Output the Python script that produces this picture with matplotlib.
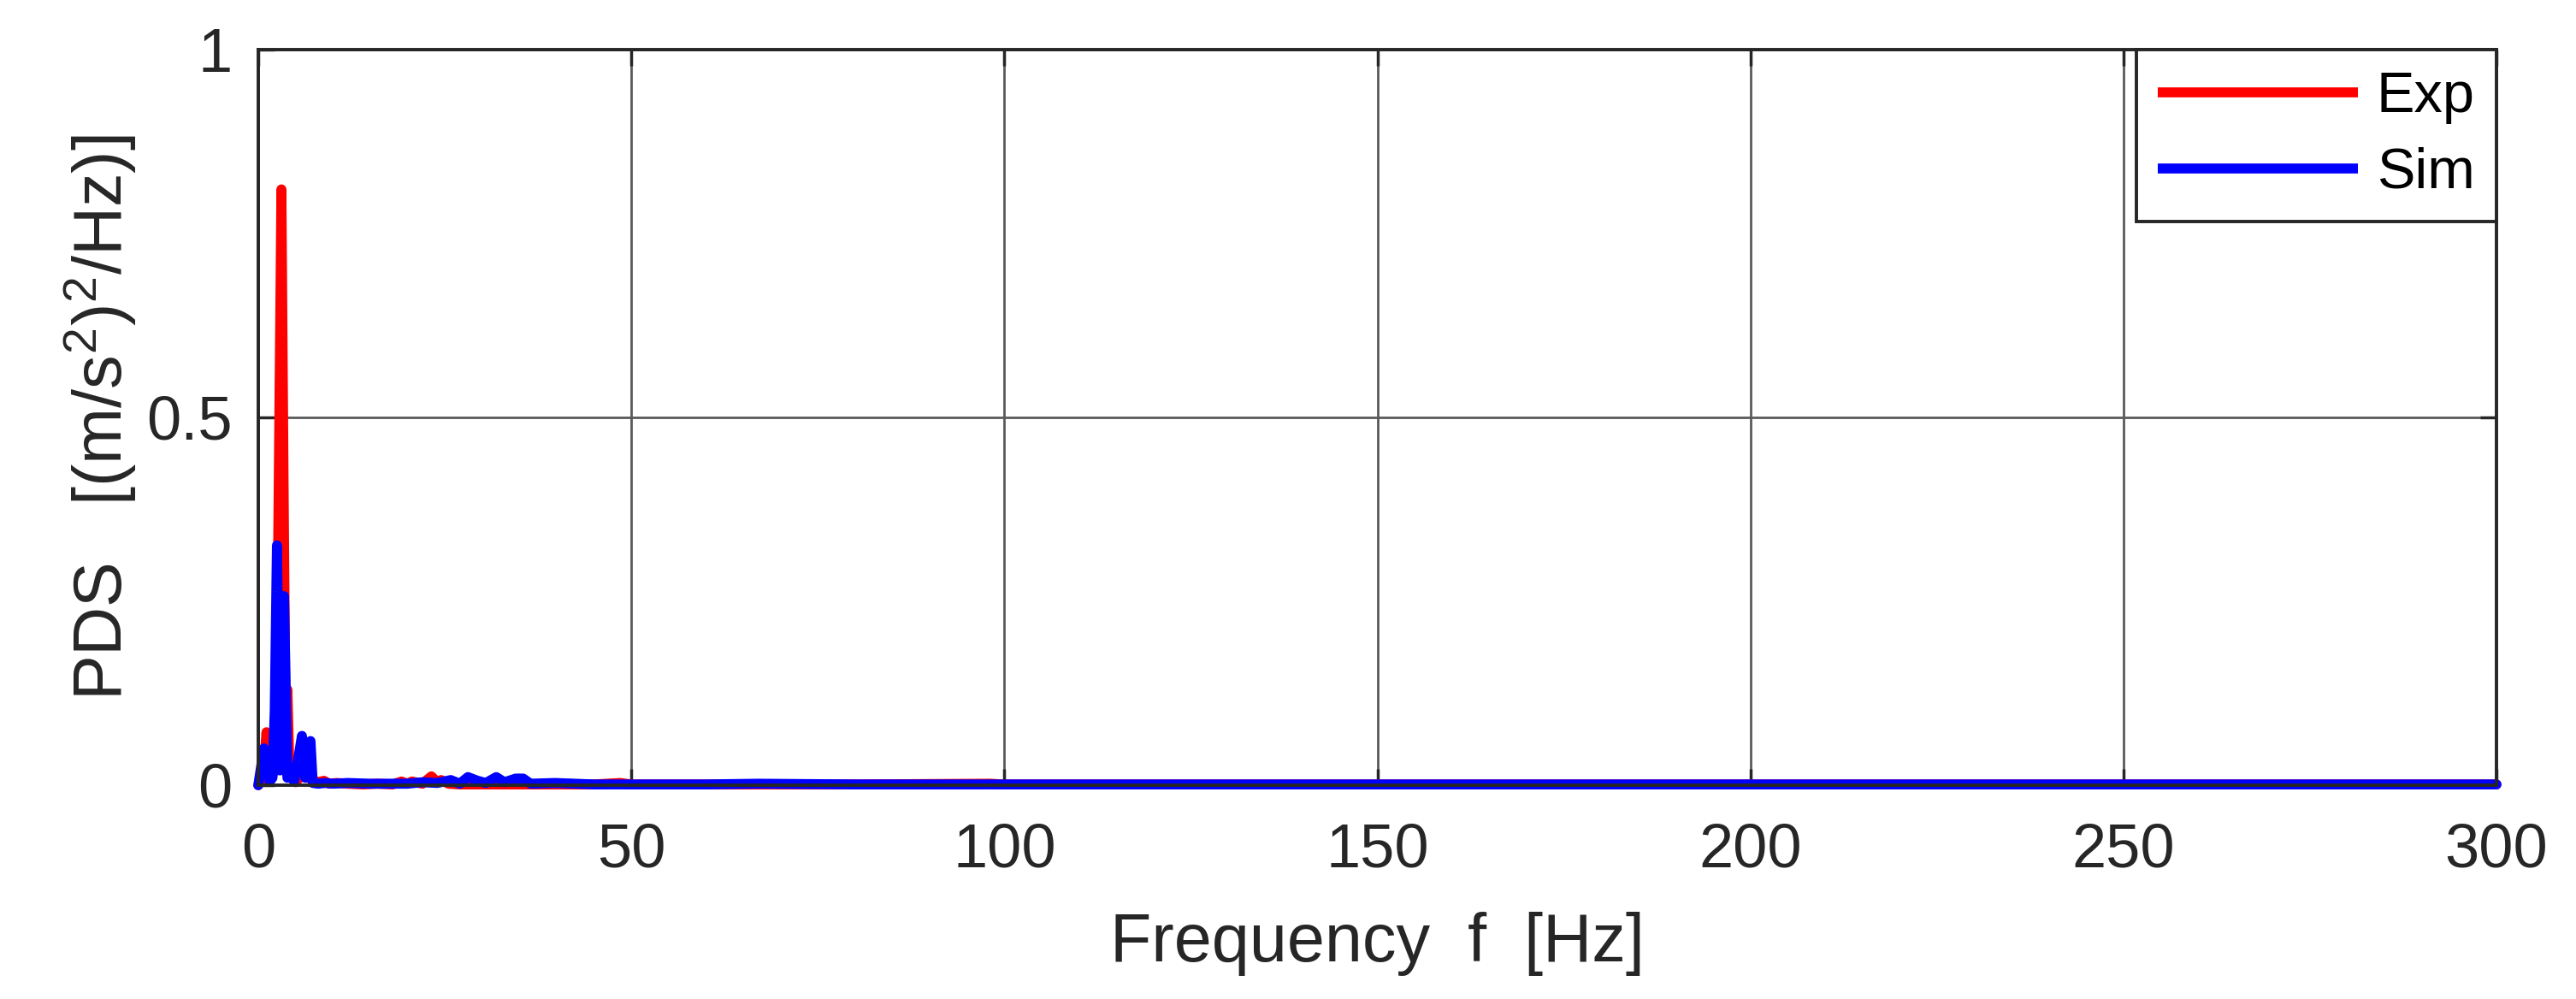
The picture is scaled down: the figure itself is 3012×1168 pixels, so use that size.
import matplotlib
matplotlib.use('agg')
import matplotlib.pyplot as plt

plt.rcParams['font.family'] = ['Liberation Sans', 'DejaVu Sans']
plt.rcParams['mathtext.fontset'] = 'custom'
plt.rcParams['mathtext.rm'] = 'Liberation Sans'
plt.rcParams['mathtext.it'] = 'Liberation Sans:italic'

# PSD (frequency in Hz, value in (m/s^2)^2/Hz)
f_exp = [0, 0.5, 0.8, 1.1, 1.5, 1.8, 2.1, 2.4, 2.75, 3.1, 3.4, 3.7, 3.9, 4.2,
         4.6, 5.0, 5.5, 6.0, 6.5, 7.0, 7.5, 8.0, 8.8, 9.5, 10.5, 12, 14, 16,
         18, 19.2, 20, 20.6, 22, 23.2, 24, 24.5, 25.5, 27, 30, 35, 40, 45,
         48.5, 50, 60, 80, 98, 100, 150, 200, 250, 300]
psd_exp = [0.0, 0.01, 0.03, 0.072, 0.005, 0.01, 0.02, 0.03, 0.42, 0.81, 0.40,
           0.02, 0.13, 0.01, 0.02, 0.004, 0.01, 0.02, 0.01, 0.015, 0.005,
           0.004, 0.006, 0.002, 0.003, 0.002, 0.001, 0.002, 0.001, 0.005,
           0.002, 0.005, 0.002, 0.012, 0.004, 0.007, 0.002, 0.001, 0.001,
           0.001, 0.001, 0.001, 0.003, 0.001, 0.001, 0.001, 0.002, 0.001,
           0.001, 0.001, 0.001, 0.001]

f_sim = [0, 0.3, 0.75, 1.2, 1.5, 1.9, 2.2, 2.5, 2.9, 3.2, 3.45, 3.7, 3.9, 4.3,
         4.8, 5.5, 5.85, 6.3, 7.0, 7.3, 8, 9, 10, 12, 15, 20, 22, 24, 25.8,
         27, 28.1, 29.4, 30.5, 31.9, 33, 34.5, 35.5, 36.5, 39.8, 45, 60, 67,
         80, 100, 150, 200, 250, 300]
psd_sim = [0.0, 0.02, 0.05, 0.045, 0.005, 0.01, 0.10, 0.326, 0.02, 0.2,
           0.257, 0.12, 0.01, 0.02, 0.005, 0.045, 0.067, 0.01, 0.06, 0.003,
           0.002, 0.003, 0.002, 0.003, 0.002, 0.002, 0.004, 0.003, 0.007,
           0.002, 0.011, 0.006, 0.003, 0.011, 0.004, 0.009, 0.009, 0.002,
           0.003, 0.001, 0.001, 0.002, 0.001, 0.001, 0.001, 0.001, 0.001,
           0.001]

W, H = 3012, 1168
fig = plt.figure(figsize=(W / 100, H / 100), dpi=100)
ax = fig.add_axes([302 / W, 1 - 918 / H, (2919 - 302) / W, (918 - 58) / H])

kw = dict(lw=8.4, solid_joinstyle='round', solid_capstyle='round', clip_on=False, zorder=3)
ax.plot(f_exp, psd_exp, color='#ff0000', label='Exp', **kw)
ax.plot(f_sim, psd_sim, color='#0000ff', label='Sim', **kw)

ax.set_xlim(0, 300)
ax.set_ylim(0, 1)
ax.set_xticks([0, 50, 100, 150, 200, 250, 300])
ax.set_yticks([0, 0.5, 1])
ax.set_yticklabels(['0', '0.5', '1'])

dark = '#262626'
ax.grid(True, color='#5a5a5a', lw=2.0, zorder=1)
ax.set_axisbelow(True)
for s in ax.spines.values():
    s.set_color(dark)
    s.set_linewidth(2.8)
    s.set_zorder(4)
ax.tick_params(direction='in', length=14, width=2.5, color=dark, labelcolor=dark,
               labelsize=52, top=True, right=True)
ax.tick_params(axis='x', pad=31)
ax.tick_params(axis='y', pad=22)

ax.set_xlabel('Frequency  f  [Hz]', fontsize=57, color=dark)
ax.xaxis.set_label_coords(0.5, -0.172)
ax.set_ylabel(r'PDS   [(m/s$^2$)$^2$/Hz)]', fontsize=57, color=dark)
ax.yaxis.set_label_coords(-0.0535, 0.5)

leg = ax.legend(loc='upper right', bbox_to_anchor=(1, 1), borderaxespad=0,
                fontsize=48, handlelength=3.5, handletextpad=0.33,
                labelspacing=0.4, borderpad=0.38, fancybox=False, framealpha=1)
leg.get_frame().set_edgecolor(dark)
leg.get_frame().set_linewidth(2.8)
for line in leg.get_lines():
    line.set_solid_capstyle('butt')

fig.savefig('out.png', dpi=100)
